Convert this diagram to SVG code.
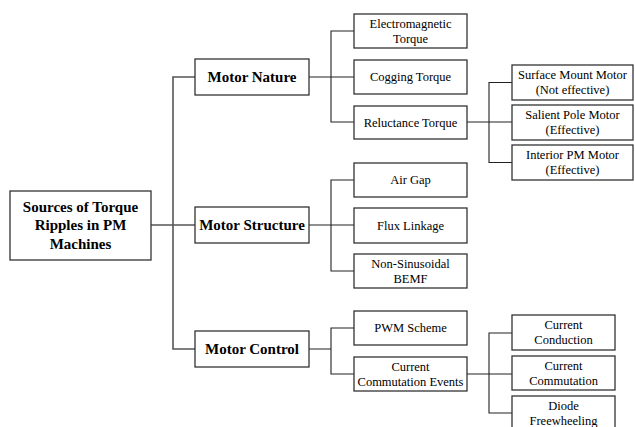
<svg xmlns="http://www.w3.org/2000/svg" width="635" height="427" viewBox="0 0 635 427" font-family="'Liberation Serif', 'Times New Roman', serif">
<style>
.b{fill:#fff;stroke:#333;stroke-width:1.3}
.t1{font-family:'Liberation Serif','Times New Roman',serif;font-weight:bold;font-size:15px;fill:#000;text-anchor:middle}
.t2{font-family:'Liberation Serif','Times New Roman',serif;font-size:12.5px;fill:#000;text-anchor:middle}
.c1{fill:none;stroke:#555;stroke-width:1.6}
.c2{fill:none;stroke:#222;stroke-width:1.1}
</style>
<rect width="635" height="427" fill="#fff"/>
<g id="connectors">
<path class="c1" d="M151 225H195M195 77H173V349H195"/>
<path class="c2" d="M309 77H354M354 31H331V122H354"/>
<path class="c2" d="M467 122H512M512 82.5H489V162.5H512"/>
<path class="c2" d="M309 225H354M354 180H331V271H354"/>
<path class="c2" d="M309 349H331M354 328H331V374H354"/>
<path class="c2" d="M467 374H512M512 333H489V413H512"/>
</g>
<g id="root"><rect class="b" x="10" y="191" width="141" height="69"/>
<text class="t1" x="80.5" y="211.5">Sources of Torque</text>
<text class="t1" x="80.5" y="230">Ripples in PM</text>
<text class="t1" x="80.5" y="248.5">Machines</text></g>
<g id="motor-nature"><rect class="b" x="195" y="59" width="114" height="36"/><text class="t1" x="252" y="82">Motor Nature</text></g>
<g id="motor-structure"><rect class="b" x="195" y="207" width="114" height="36"/><text class="t1" x="252" y="230">Motor Structure</text></g>
<g id="motor-control"><rect class="b" x="195" y="331" width="114" height="36"/><text class="t1" x="252" y="354">Motor Control</text></g>
<g id="electromagnetic"><rect class="b" x="354" y="14" width="113" height="34"/><text class="t2" x="410.5" y="27.5">Electromagnetic</text><text class="t2" x="410.5" y="42.5">Torque</text></g>
<g id="cogging"><rect class="b" x="354" y="60" width="113" height="34"/><text class="t2" x="410.5" y="81">Cogging Torque</text></g>
<g id="reluctance"><rect class="b" x="354" y="106" width="113" height="33"/><text class="t2" x="410.5" y="126.5">Reluctance Torque</text></g>
<g id="surface-mount"><rect class="b" x="512" y="65" width="121" height="35"/><text class="t2" x="572.5" y="79">Surface Mount Motor</text><text class="t2" x="572.5" y="94">(Not effective)</text></g>
<g id="salient-pole"><rect class="b" x="512" y="105" width="121" height="35"/><text class="t2" x="572.5" y="119">Salient Pole Motor</text><text class="t2" x="572.5" y="134">(Effective)</text></g>
<g id="interior-pm"><rect class="b" x="512" y="145" width="121" height="35"/><text class="t2" x="572.5" y="159">Interior PM Motor</text><text class="t2" x="572.5" y="174">(Effective)</text></g>
<g id="air-gap"><rect class="b" x="354" y="163" width="113" height="34"/><text class="t2" x="410.5" y="184">Air Gap</text></g>
<g id="flux-linkage"><rect class="b" x="354" y="208" width="113" height="35"/><text class="t2" x="410.5" y="229.5">Flux Linkage</text></g>
<g id="non-sinusoidal"><rect class="b" x="354" y="254" width="113" height="34"/><text class="t2" x="410.5" y="267.5">Non-Sinusoidal</text><text class="t2" x="410.5" y="282.5">BEMF</text></g>
<g id="pwm"><rect class="b" x="354" y="311" width="113" height="34"/><text class="t2" x="410.5" y="332">PWM Scheme</text></g>
<g id="cce"><rect class="b" x="354" y="357" width="113" height="34"/><text class="t2" x="410.5" y="370.5">Current</text><text class="t2" x="410.5" y="385.5">Commutation Events</text></g>
<g id="current-conduction"><rect class="b" x="512" y="315" width="103" height="35"/><text class="t2" x="563.5" y="329">Current</text><text class="t2" x="563.5" y="344">Conduction</text></g>
<g id="current-commutation"><rect class="b" x="512" y="356" width="103" height="34"/><text class="t2" x="563.5" y="369.5">Current</text><text class="t2" x="563.5" y="384.5">Commutation</text></g>
<g id="diode"><rect class="b" x="512" y="396" width="103" height="36"/><text class="t2" x="563.5" y="410">Diode</text><text class="t2" x="563.5" y="424.5">Freewheeling</text></g>
</svg>
